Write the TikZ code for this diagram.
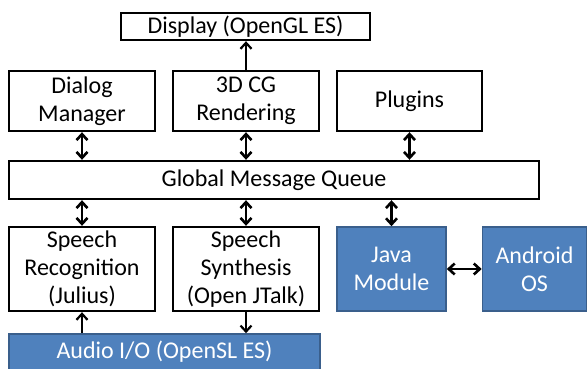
\documentclass[tikz,border=0pt]{standalone}
\usepackage{fontspec}
\setmainfont{Carlito}
\usetikzlibrary{arrows.meta}
\definecolor{boxblue}{HTML}{4F81BD}
\definecolor{boxblueline}{HTML}{3A5F8C}
\begin{document}
\begin{tikzpicture}[x=1pt,y=-1pt,
  wbox/.style={draw=black, line width=2.4pt, fill=white, inner sep=0pt, align=center, font=\fontsize{24}{28}\selectfont},
  bbox/.style={draw=boxblueline, line width=1.6pt, fill=boxblue, text=white, inner sep=0pt, align=center, font=\fontsize{24}{28}\selectfont},
  dbl/.style={line width=2.6pt, {Straight Barb[length=6pt,width=11pt]}-{Straight Barb[length=6pt,width=11pt]}},
  sgl/.style={line width=2.2pt, -{Straight Barb[length=6pt,width=11pt]}}]
\useasboundingbox (0,0) rectangle (587,369);
\clip (0,0) rectangle (587,369);
\node[wbox, minimum width=249pt, minimum height=27pt] (disp) at (245.5,26.5) {Display (OpenGL ES)};
\node[wbox, minimum width=146pt, minimum height=60pt] (dlg) at (82,101) {Dialog\\Manager};
\node[wbox, minimum width=146pt, minimum height=60pt] (r3d) at (246,101) {3D CG\\Rendering};
\node[wbox, minimum width=145pt, minimum height=60pt] (plg) at (409.5,101) {Plugins};
\node[wbox, minimum width=530pt, minimum height=38pt] (gmq) at (274,180) {Global Message Queue};
\node[wbox, minimum width=146pt, minimum height=84pt] (sr) at (82,269) {Speech\\Recognition\\(Julius)};
\node[wbox, minimum width=146pt, minimum height=84pt] (ss) at (246,269) {Speech\\Synthesis\\(Open JTalk)};
\node[bbox, minimum width=109pt, minimum height=84pt] (java) at (391.5,269) {Java\\Module};
\node[bbox, minimum width=104pt, minimum height=84pt] (andr) at (534.5,269) {Android\\OS};
\node[bbox, minimum width=311pt, minimum height=36pt] (audio) at (164.5,352) {Audio I/O (OpenSL ES)};
\draw[sgl] (r3d.north) -- (r3d.north |- disp.south);
\draw[dbl] (dlg.south) -- (dlg.south |- gmq.north);
\draw[dbl] (r3d.south) -- (r3d.south |- gmq.north);
\draw[dbl] (plg.south) -- (plg.south |- gmq.north);
\draw[dbl] (sr.north) -- (sr.north |- gmq.south);
\draw[dbl] (ss.north) -- (ss.north |- gmq.south);
\draw[dbl] (java.north) -- (java.north |- gmq.south);
\draw[dbl] (java.east) -- (andr.west);
\draw[sgl] (audio.north -| sr.south) -- (sr.south);
\draw[sgl] (ss.south) -- (ss.south |- audio.north);
\end{tikzpicture}
\end{document}
